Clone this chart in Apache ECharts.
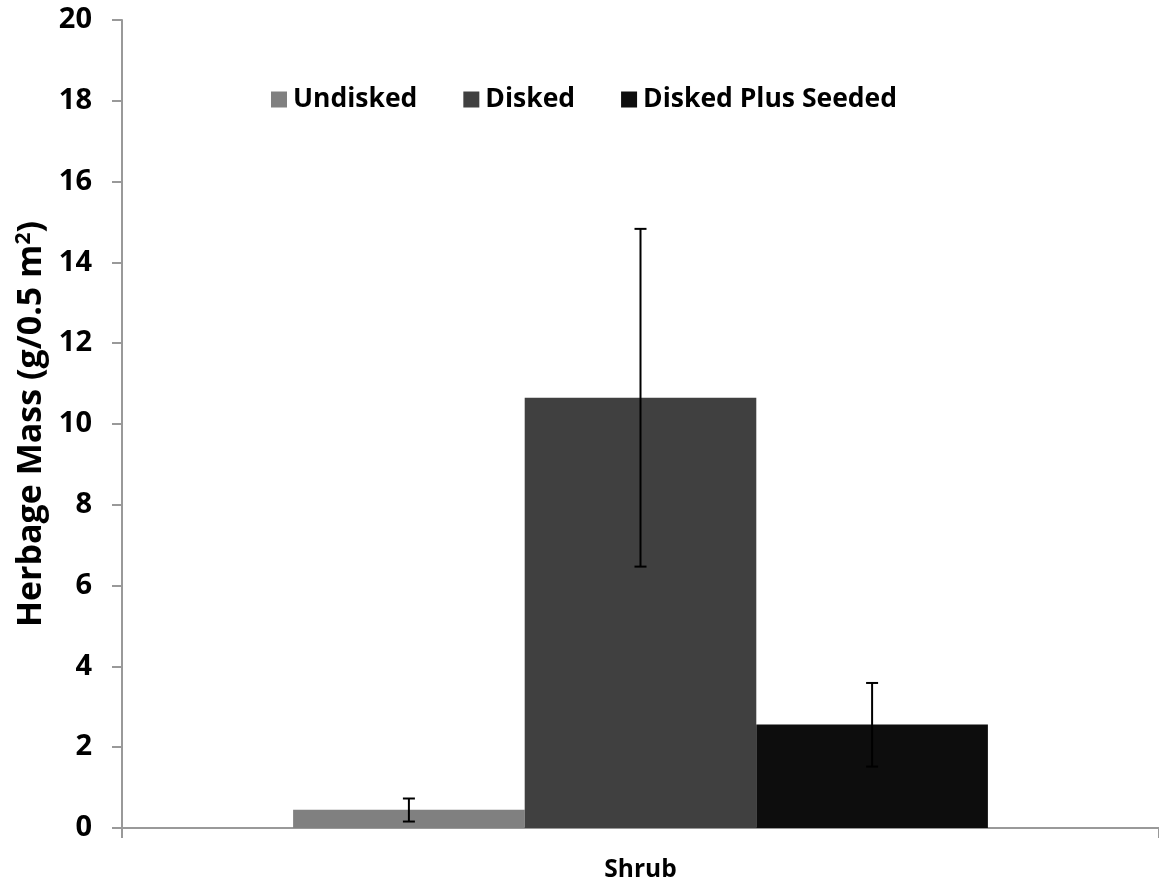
<!DOCTYPE html>
<html>
<head>
<meta charset="utf-8">
<script src="https://cdn.jsdelivr.net/npm/echarts@6/dist/echarts.min.js"></script>
<style>html,body{margin:0;padding:0;background:#fff}#c{width:1159px;height:886px}</style>
</head>
<body>
<div id="c"></div>
<script>
const categories = ['Shrub'];
const seriesNames = ['Undisked', 'Disked', 'Disked Plus Seeded'];
const undisked = [0.45];
const disked = [10.65];
const diskedSeeded = [2.56];
const errLow = [[0.16], [6.47], [1.52]];
const errHigh = [[0.73], [14.83], [3.59]];
const colors = ['#808080', '#404040', '#0d0d0d'];
const values = [undisked, disked, diskedSeeded];

const FONT = '"Open Sans", "Noto Sans", sans-serif';
const chart = echarts.init(document.getElementById('c'));

const barSeries = seriesNames.map((n, i) => ({
  name: n, type: 'bar', data: values[i],
  barGap: '0%', barCategoryGap: '33%',
  itemStyle: { color: colors[i] },
  emphasis: { disabled: true }
}));

const errSeries = seriesNames.map((n, i) => ({
  type: 'custom', name: n + ' err',
  data: categories.map((c, k) => [k, errLow[i][k], errHigh[i][k]]),
  z: 10,
  renderItem: function (params, api) {
    const k = api.value(0);
    const lo = api.coord([k, api.value(1)]);
    const hi = api.coord([k, api.value(2)]);
    const band = api.size([1, 0])[0];
    const barW = band * (1 - 0.33) / 3;
    const cx = lo[0] - band * (1 - 0.33) / 2 + barW * (i + 0.5);
    const hw = 6;
    const st = { stroke: '#000', lineWidth: 2 };
    return { type: 'group', children: [
      { type: 'line', shape: { x1: cx, y1: hi[1], x2: cx, y2: lo[1] }, style: st },
      { type: 'line', shape: { x1: cx - hw, y1: hi[1], x2: cx + hw, y2: hi[1] }, style: st },
      { type: 'line', shape: { x1: cx - hw, y1: lo[1], x2: cx + hw, y2: lo[1] }, style: st }
    ]};
  }
}));

chart.setOption({
  animation: false,
  backgroundColor: '#fff',
  grid: { left: 122, right: 0, top: 20, bottom: 58, containLabel: false },
  legend: {
    data: seriesNames,
    left: 266, top: 81,
    itemWidth: 16, itemHeight: 16, itemGap: 46,
    icon: 'rect',
    textStyle: { fontFamily: FONT, fontWeight: 'bold', fontSize: 26.5, color: '#000', padding: [0, 0, 0, 1] }
  },
  xAxis: {
    type: 'category', data: categories,
    axisLine: { lineStyle: { color: '#999', width: 2 } },
    axisTick: { show: true, length: 10, lineStyle: { color: '#999', width: 2 } },
    axisLabel: { fontFamily: FONT, fontWeight: 'bold', fontSize: 24.5, color: '#000', margin: 30 }
  },
  yAxis: {
    type: 'value', min: 0, max: 20, interval: 2,
    name: 'Herbage Mass (g/0.5 m{sup|2})',
    nameLocation: 'middle', nameGap: 72, nameRotate: 90,
    nameTextStyle: { fontFamily: FONT, fontWeight: 'bold', fontSize: 34, color: '#000',
      rich: { sup: { fontFamily: FONT, fontWeight: 'bold', fontSize: 21, color: '#000', verticalAlign: 'top', padding: [0, 0, 14, 0] } } },
    axisLine: { show: true, lineStyle: { color: '#999', width: 2 } },
    axisTick: { show: true, length: 10, lineStyle: { color: '#999', width: 2 } },
    splitLine: { show: false },
    axisLabel: { fontFamily: FONT, fontWeight: 'bold', fontSize: 29, color: '#000', margin: 30 }
  },
  series: barSeries.concat(errSeries)
});
</script>
</body>
</html>
